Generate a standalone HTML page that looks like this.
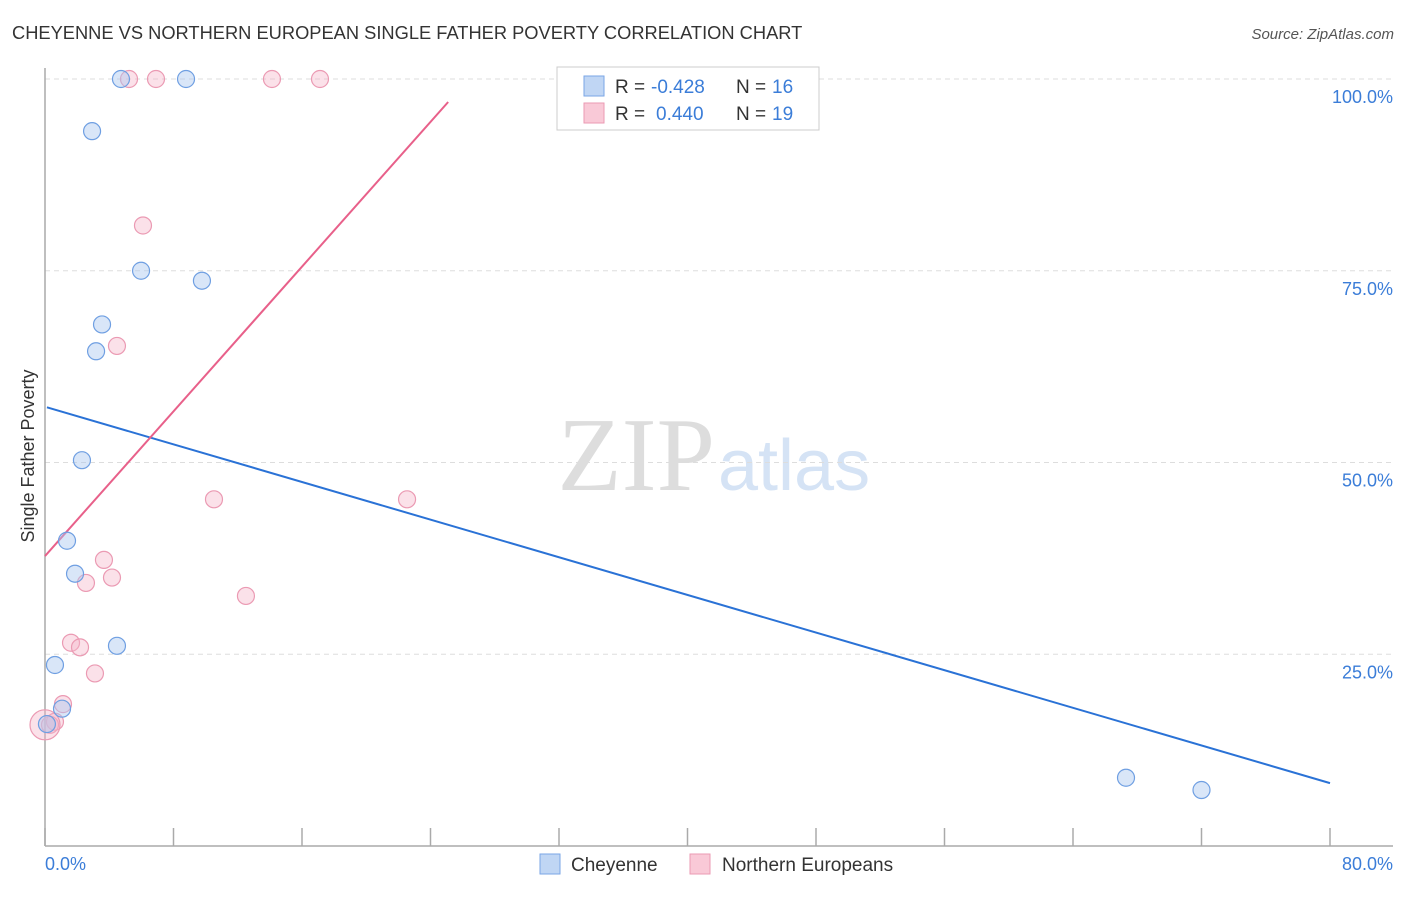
<!DOCTYPE html>
<html><head><meta charset="utf-8"><style>
body{margin:0;background:#fff;font-family:"Liberation Sans",sans-serif;}
</style></head><body>
<svg width="1406" height="892" xmlns="http://www.w3.org/2000/svg" id="chart" font-family="Liberation Sans, sans-serif">
<text x="12" y="39" font-size="18.3" fill="#333">CHEYENNE VS NORTHERN EUROPEAN SINGLE FATHER POVERTY CORRELATION CHART</text>
<text x="1394" y="39" font-size="15" fill="#555" font-style="italic" text-anchor="end">Source: ZipAtlas.com</text>
<text x="715" y="490" font-size="105" fill="#ddd" font-family="Liberation Serif, serif" text-anchor="end">ZIP</text>
<text x="718" y="490" font-size="72" fill="#d5e3f5">atlas</text>
<g id="grid"></g>
<line x1="45" y1="68" x2="45" y2="846" stroke="#aaa" stroke-width="1.5"/>
<line x1="45" y1="846" x2="1393" y2="846" stroke="#aaa" stroke-width="1.5"/>
<g id="ticks"></g>
<text x="34" y="456" font-size="18" fill="#333" text-anchor="middle" transform="rotate(-90 34 456)">Single Father Poverty</text>
<text x="45" y="870" font-size="18" fill="#3b7dd8">0.0%</text>
<text x="1393" y="870" font-size="18" fill="#3b7dd8" text-anchor="end">80.0%</text>
<g id="lines"></g>
<g id="points"></g>
<g>
<rect x="557" y="67" width="262" height="63" fill="#fff" stroke="#ccc"/>
<rect x="584" y="76" width="20" height="20" fill="#c0d6f4" stroke="#7aa6e6"/>
<rect x="584" y="103" width="20" height="20" fill="#f9c9d7" stroke="#eb9ab3"/>
<text x="615" y="93" font-size="19" fill="#333">R =</text>
<text x="651" y="93" font-size="19" fill="#3b7dd8">-0.428</text>
<text x="736" y="93" font-size="19" fill="#333">N =</text>
<text x="772" y="93" font-size="19" fill="#3b7dd8">16</text>
<text x="615" y="120" font-size="19" fill="#333">R =</text>
<text x="656" y="120" font-size="19" fill="#3b7dd8">0.440</text>
<text x="736" y="120" font-size="19" fill="#333">N =</text>
<text x="772" y="120" font-size="19" fill="#3b7dd8">19</text>
</g>
<g>
<rect x="540" y="854" width="20" height="20" fill="#c0d6f4" stroke="#7aa6e6"/>
<text x="571" y="871" font-size="19" fill="#333">Cheyenne</text>
<rect x="690" y="854" width="20" height="20" fill="#f9c9d7" stroke="#eb9ab3"/>
<text x="722" y="871" font-size="19" fill="#333">Northern Europeans</text>
</g>
</svg>
<script>
const yTicks=[25,50,75,100];
const yTickLabels=["25.0%","50.0%","75.0%","100.0%"];
const xTicks=[0,8,16,24,32,40,48,56,64,72,80];
const cheyX=[4.73,8.78,2.93,5.98,9.77,3.55,3.18,2.30,1.37,1.87,4.48,0.62,1.06,0.12,67.3,72.0];
const cheyY=[100,100,93.2,75.0,73.7,68.0,64.5,50.3,39.8,35.5,26.1,23.6,17.9,15.9,8.9,7.3];
const neX=[5.23,6.91,14.13,17.12,6.10,4.48,10.52,22.54,3.67,4.17,2.55,12.51,1.62,2.18,3.11,1.12,0.62,0.31,0.0];
const neY=[100,100,100,100,80.9,65.2,45.2,45.2,37.3,35.0,34.3,32.6,26.5,25.9,22.5,18.5,16.2,15.8,15.8];
const cheyTrend=[[0.12,57.2],[80,8.2]];
const neTrend=[[0,37.8],[25.1,97.0]];
const X=v=>45+v/80*1285;
const Y=v=>846-v/100*767;
const NS="http://www.w3.org/2000/svg";
function mk(p,t,a){const e=document.createElementNS(NS,t);for(const k in a)e.setAttribute(k,a[k]);document.getElementById(p).appendChild(e);return e;}
yTicks.forEach((t,i)=>{
 const l=mk("grid","line",{x1:45,x2:1393,y1:Y(t),y2:Y(t),stroke:"#ddd","stroke-dasharray":"5,4"});
 
 
 const tx=mk("grid","text",{x:1393,y:Y(t)+24,"font-size":18,fill:"#3b7dd8","text-anchor":"end"});
 tx.textContent=yTickLabels[i];
 
 
});
xTicks.forEach(t=>{
 const l=mk("ticks","line",{x1:X(t),x2:X(t),y1:828,y2:846,stroke:"#aaa","stroke-width":1.5});
 
 
});
let l1=mk("lines","line",{x1:X(cheyTrend[0][0]),y1:Y(cheyTrend[0][1]),x2:X(cheyTrend[1][0]),y2:Y(cheyTrend[1][1]),stroke:"#2a72d6","stroke-width":2});


let l2=mk("lines","line",{x1:X(neTrend[0][0]),y1:Y(neTrend[0][1]),x2:X(neTrend[1][0]),y2:Y(neTrend[1][1]),stroke:"#e8608a","stroke-width":2});


neX.forEach((x,i)=>{
 const c=mk("points","circle",{cx:X(x),cy:Y(neY[i]),r:i==neX.length-1?15:8.5,fill:"rgba(246,180,200,0.4)",stroke:"#eb9ab3","stroke-width":1.2});
 
 
});
cheyX.forEach((x,i)=>{
 const c=mk("points","circle",{cx:X(x),cy:Y(cheyY[i]),r:8.5,fill:"rgba(170,200,240,0.45)",stroke:"#6f9fe2","stroke-width":1.2});
 
 
});
</script>
</body></html>
